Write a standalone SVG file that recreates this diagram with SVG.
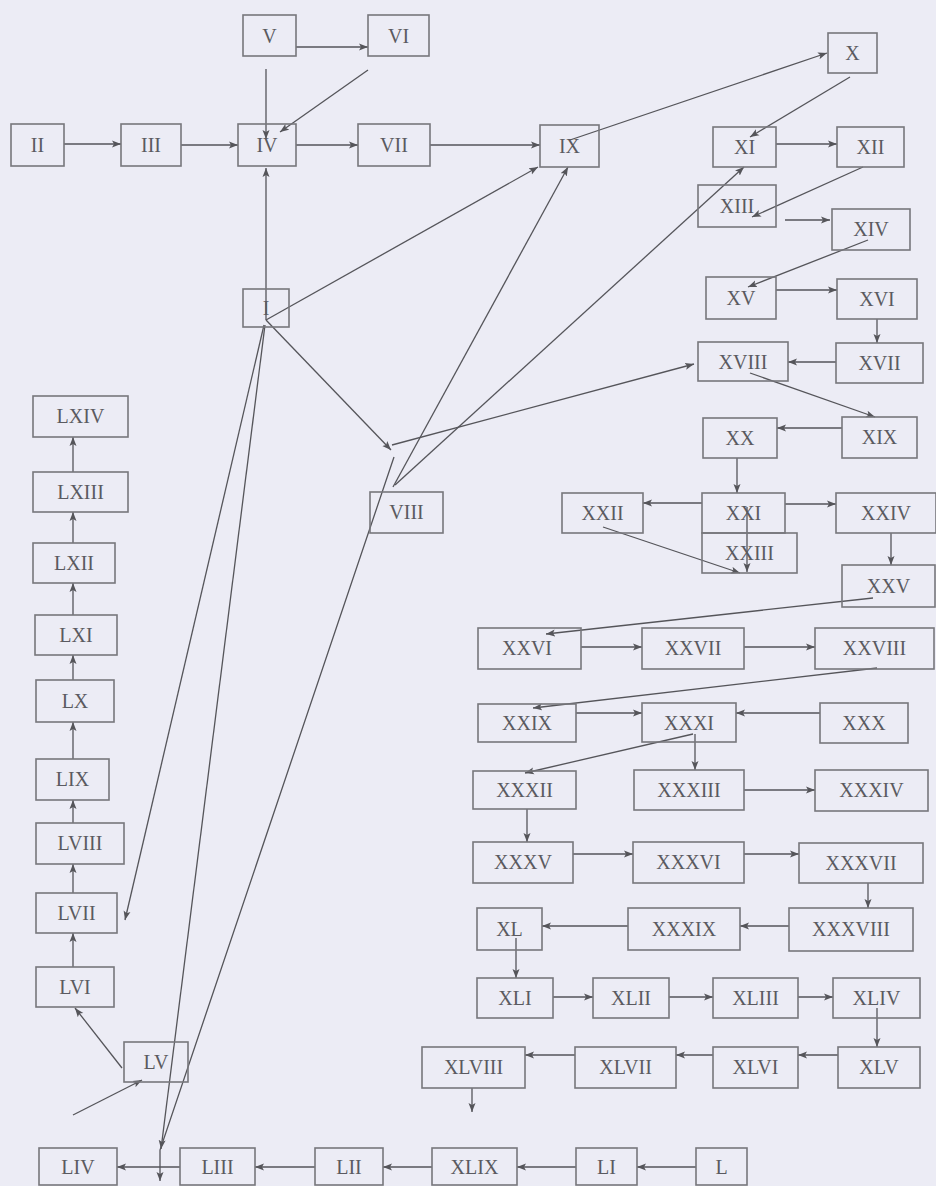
<svg xmlns="http://www.w3.org/2000/svg" width="936" height="1186" viewBox="0 0 936 1186">
<style>
.bg{fill:#ececf5}
.n rect{fill:none;stroke:#77777c;stroke-width:1.6}
.n text{font-family:"Liberation Serif","Times New Roman",serif;font-size:20px;fill:#5a5a60;text-anchor:middle}
.e line,.e polyline{stroke:#55555a;stroke-width:1.3;fill:none;marker-end:url(#ah)}
</style>
<defs>
<marker id="ah" markerUnits="userSpaceOnUse" markerWidth="10" markerHeight="8" refX="9" refY="4" orient="auto">
<path d="M0,0.5 L9,4 L0,7.5 L2,4 z" fill="#55555a"/>
</marker>
</defs>
<rect class="bg" x="0" y="0" width="936" height="1186"/>
<g id="connectors" class="e">
<line x1="64" y1="144" x2="121" y2="144"/>
<line x1="181" y1="145" x2="238" y2="145"/>
<line x1="296" y1="145" x2="358" y2="145"/>
<line x1="296" y1="47" x2="368" y2="47"/>
<line x1="266" y1="69" x2="266" y2="139"/>
<line x1="368" y1="70" x2="280" y2="132"/>
<line x1="266" y1="320" x2="266" y2="168"/>
<line x1="430" y1="145" x2="540" y2="145"/>
<line x1="266" y1="320" x2="538" y2="167"/>
<line x1="393" y1="487" x2="568" y2="167"/>
<line x1="395" y1="485" x2="744" y2="167"/>
<line x1="570" y1="140" x2="827" y2="53"/>
<line x1="850" y1="77" x2="750" y2="137"/>
<line x1="776" y1="144" x2="837" y2="144"/>
<line x1="863" y1="167" x2="752" y2="217"/>
<line x1="785" y1="220" x2="830" y2="220"/>
<line x1="868" y1="240" x2="748" y2="287"/>
<line x1="776" y1="290" x2="837" y2="290"/>
<line x1="877" y1="319" x2="877" y2="343"/>
<line x1="836" y1="362" x2="788" y2="362"/>
<line x1="392" y1="445" x2="694" y2="364"/>
<line x1="266" y1="320" x2="391" y2="450"/>
<line x1="750" y1="373" x2="875" y2="417"/>
<line x1="842" y1="428" x2="777" y2="428"/>
<line x1="737" y1="458" x2="737" y2="493"/>
<line x1="702" y1="503" x2="643" y2="503"/>
<line x1="785" y1="504" x2="836" y2="504"/>
<line x1="747" y1="507" x2="747" y2="572"/>
<line x1="603" y1="527" x2="740" y2="573"/>
<line x1="891" y1="533" x2="891" y2="565"/>
<line x1="873" y1="598" x2="546" y2="634"/>
<line x1="581" y1="647" x2="642" y2="647"/>
<line x1="744" y1="647" x2="815" y2="647"/>
<line x1="877" y1="668" x2="533" y2="708"/>
<line x1="576" y1="713" x2="642" y2="713"/>
<line x1="820" y1="713" x2="736" y2="713"/>
<line x1="693" y1="734" x2="525" y2="773"/>
<line x1="695" y1="734" x2="695" y2="770"/>
<line x1="744" y1="790" x2="815" y2="790"/>
<line x1="527" y1="809" x2="527" y2="842"/>
<line x1="573" y1="854" x2="633" y2="854"/>
<line x1="744" y1="854" x2="799" y2="854"/>
<line x1="868" y1="883" x2="868" y2="908"/>
<line x1="789" y1="926" x2="740" y2="926"/>
<line x1="628" y1="926" x2="542" y2="926"/>
<line x1="516" y1="938" x2="516" y2="978"/>
<line x1="553" y1="997" x2="593" y2="997"/>
<line x1="669" y1="997" x2="713" y2="997"/>
<line x1="798" y1="997" x2="833" y2="997"/>
<line x1="877" y1="1008" x2="877" y2="1047"/>
<line x1="838" y1="1055" x2="798" y2="1055"/>
<line x1="713" y1="1055" x2="676" y2="1055"/>
<line x1="575" y1="1055" x2="525" y2="1055"/>
<line x1="472" y1="1088" x2="472" y2="1112"/>
<line x1="696" y1="1167" x2="637" y2="1167"/>
<line x1="576" y1="1167" x2="517" y2="1167"/>
<line x1="432" y1="1167" x2="383" y2="1167"/>
<line x1="315" y1="1167" x2="255" y2="1167"/>
<line x1="180" y1="1167" x2="117" y2="1167"/>
<line x1="264" y1="325" x2="125" y2="920"/>
<line x1="265" y1="325" x2="161" y2="1149"/>
<polyline points="394,457 160,1150 160,1181"/>
<line x1="73" y1="1115" x2="142" y2="1080"/>
<line x1="122" y1="1068" x2="75" y2="1008"/>
<line x1="73" y1="967" x2="73" y2="933"/>
<line x1="73" y1="893" x2="73" y2="864"/>
<line x1="73" y1="823" x2="73" y2="800"/>
<line x1="73" y1="759" x2="73" y2="722"/>
<line x1="73" y1="680" x2="73" y2="655"/>
<line x1="73" y1="615" x2="73" y2="583"/>
<line x1="73" y1="543" x2="73" y2="512"/>
<line x1="73" y1="472" x2="73" y2="437"/>
</g>
<g id="n1" class="n"><rect x="243" y="289" width="46" height="38"/><text x="266" y="315">I</text></g>
<g id="n2" class="n"><rect x="11" y="124" width="53" height="42"/><text x="37.5" y="152">II</text></g>
<g id="n3" class="n"><rect x="121" y="124" width="60" height="42"/><text x="151" y="152">III</text></g>
<g id="n4" class="n"><rect x="238" y="124" width="58" height="42"/><text x="267" y="152">IV</text></g>
<g id="n5" class="n"><rect x="243" y="15" width="53" height="41"/><text x="269.5" y="43">V</text></g>
<g id="n6" class="n"><rect x="368" y="15" width="61" height="41"/><text x="398.5" y="43">VI</text></g>
<g id="n7" class="n"><rect x="358" y="124" width="72" height="42"/><text x="394" y="152">VII</text></g>
<g id="n8" class="n"><rect x="370" y="492" width="73" height="41"/><text x="406.5" y="519">VIII</text></g>
<g id="n9" class="n"><rect x="540" y="125" width="59" height="42"/><text x="569.5" y="153">IX</text></g>
<g id="n10" class="n"><rect x="828" y="33" width="49" height="40"/><text x="852.5" y="60">X</text></g>
<g id="n11" class="n"><rect x="713" y="127" width="63" height="40"/><text x="744.5" y="154">XI</text></g>
<g id="n12" class="n"><rect x="837" y="127" width="67" height="40"/><text x="870.5" y="154">XII</text></g>
<g id="n13" class="n"><rect x="698" y="185" width="78" height="42"/><text x="737" y="213">XIII</text></g>
<g id="n14" class="n"><rect x="832" y="209" width="78" height="41"/><text x="871" y="236">XIV</text></g>
<g id="n15" class="n"><rect x="706" y="277" width="70" height="42"/><text x="741" y="305">XV</text></g>
<g id="n16" class="n"><rect x="837" y="279" width="80" height="40"/><text x="877" y="306">XVI</text></g>
<g id="n17" class="n"><rect x="836" y="343" width="87" height="40"/><text x="879.5" y="370">XVII</text></g>
<g id="n18" class="n"><rect x="698" y="342" width="90" height="39"/><text x="743" y="369">XVIII</text></g>
<g id="n19" class="n"><rect x="842" y="417" width="75" height="41"/><text x="879.5" y="444">XIX</text></g>
<g id="n20" class="n"><rect x="703" y="418" width="74" height="40"/><text x="740" y="445">XX</text></g>
<g id="n21" class="n"><rect x="702" y="493" width="83" height="40"/><text x="743.5" y="520">XXI</text></g>
<g id="n22" class="n"><rect x="562" y="493" width="81" height="40"/><text x="602.5" y="520">XXII</text></g>
<g id="n23" class="n"><rect x="702" y="533" width="95" height="40"/><text x="749.5" y="560">XXIII</text></g>
<g id="n24" class="n"><rect x="836" y="493" width="100" height="40"/><text x="886" y="520">XXIV</text></g>
<g id="n25" class="n"><rect x="842" y="565" width="93" height="42"/><text x="888.5" y="593">XXV</text></g>
<g id="n26" class="n"><rect x="478" y="628" width="103" height="41"/><text x="527" y="655">XXVI</text></g>
<g id="n27" class="n"><rect x="642" y="628" width="102" height="41"/><text x="693" y="655">XXVII</text></g>
<g id="n28" class="n"><rect x="815" y="628" width="119" height="41"/><text x="874.5" y="655">XXVIII</text></g>
<g id="n29" class="n"><rect x="478" y="704" width="98" height="38"/><text x="527" y="730">XXIX</text></g>
<g id="n30" class="n"><rect x="820" y="703" width="88" height="40"/><text x="864" y="730">XXX</text></g>
<g id="n31" class="n"><rect x="642" y="703" width="94" height="39"/><text x="689" y="730">XXXI</text></g>
<g id="n32" class="n"><rect x="473" y="771" width="103" height="38"/><text x="524.5" y="797">XXXII</text></g>
<g id="n33" class="n"><rect x="634" y="770" width="110" height="40"/><text x="689" y="797">XXXIII</text></g>
<g id="n34" class="n"><rect x="815" y="770" width="113" height="41"/><text x="871.5" y="797">XXXIV</text></g>
<g id="n35" class="n"><rect x="473" y="842" width="100" height="41"/><text x="523" y="869">XXXV</text></g>
<g id="n36" class="n"><rect x="633" y="842" width="111" height="41"/><text x="688.5" y="869">XXXVI</text></g>
<g id="n37" class="n"><rect x="799" y="843" width="124" height="40"/><text x="861" y="870">XXXVII</text></g>
<g id="n38" class="n"><rect x="789" y="908" width="124" height="43"/><text x="851" y="936">XXXVIII</text></g>
<g id="n39" class="n"><rect x="628" y="908" width="112" height="42"/><text x="684" y="936">XXXIX</text></g>
<g id="n40" class="n"><rect x="477" y="908" width="65" height="42"/><text x="509.5" y="936">XL</text></g>
<g id="n41" class="n"><rect x="477" y="978" width="76" height="40"/><text x="515" y="1005">XLI</text></g>
<g id="n42" class="n"><rect x="593" y="978" width="76" height="40"/><text x="631" y="1005">XLII</text></g>
<g id="n43" class="n"><rect x="713" y="978" width="85" height="40"/><text x="755.5" y="1005">XLIII</text></g>
<g id="n44" class="n"><rect x="833" y="978" width="87" height="40"/><text x="876.5" y="1005">XLIV</text></g>
<g id="n45" class="n"><rect x="838" y="1047" width="82" height="41"/><text x="879" y="1074">XLV</text></g>
<g id="n46" class="n"><rect x="713" y="1047" width="85" height="41"/><text x="755.5" y="1074">XLVI</text></g>
<g id="n47" class="n"><rect x="575" y="1047" width="101" height="41"/><text x="625.5" y="1074">XLVII</text></g>
<g id="n48" class="n"><rect x="422" y="1047" width="103" height="41"/><text x="473.5" y="1074">XLVIII</text></g>
<g id="n49" class="n"><rect x="432" y="1148" width="85" height="37"/><text x="474.5" y="1174">XLIX</text></g>
<g id="n50" class="n"><rect x="696" y="1148" width="51" height="37"/><text x="721.5" y="1174">L</text></g>
<g id="n51" class="n"><rect x="576" y="1148" width="61" height="37"/><text x="606.5" y="1174">LI</text></g>
<g id="n52" class="n"><rect x="315" y="1148" width="68" height="37"/><text x="349" y="1174">LII</text></g>
<g id="n53" class="n"><rect x="180" y="1148" width="75" height="37"/><text x="217.5" y="1174">LIII</text></g>
<g id="n54" class="n"><rect x="39" y="1148" width="78" height="37"/><text x="78" y="1174">LIV</text></g>
<g id="n55" class="n"><rect x="124" y="1042" width="64" height="40"/><text x="156" y="1069">LV</text></g>
<g id="n56" class="n"><rect x="36" y="967" width="78" height="40"/><text x="75" y="994">LVI</text></g>
<g id="n57" class="n"><rect x="36" y="893" width="81" height="40"/><text x="76.5" y="920">LVII</text></g>
<g id="n58" class="n"><rect x="36" y="823" width="88" height="41"/><text x="80" y="850">LVIII</text></g>
<g id="n59" class="n"><rect x="36" y="759" width="73" height="41"/><text x="72.5" y="786">LIX</text></g>
<g id="n60" class="n"><rect x="36" y="680" width="78" height="42"/><text x="75" y="708">LX</text></g>
<g id="n61" class="n"><rect x="35" y="615" width="82" height="40"/><text x="76" y="642">LXI</text></g>
<g id="n62" class="n"><rect x="33" y="543" width="82" height="40"/><text x="74" y="570">LXII</text></g>
<g id="n63" class="n"><rect x="33" y="472" width="95" height="40"/><text x="80.5" y="499">LXIII</text></g>
<g id="n64" class="n"><rect x="33" y="396" width="95" height="41"/><text x="80.5" y="423">LXIV</text></g>
</svg>
